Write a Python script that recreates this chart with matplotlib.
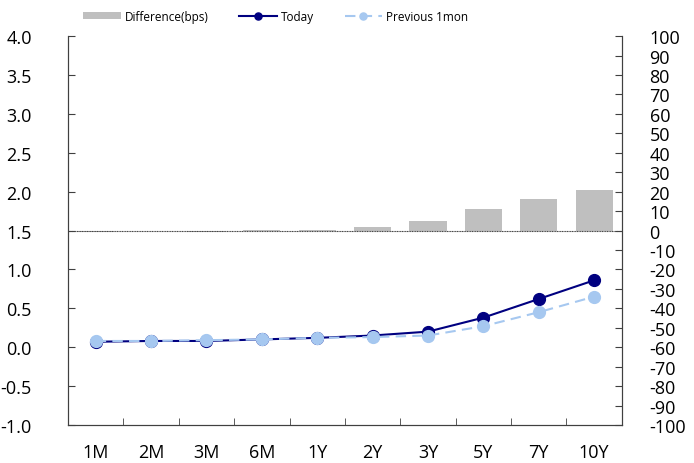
import numpy as np
import matplotlib
matplotlib.use('Agg')
import matplotlib.pyplot as plt
from matplotlib.ticker import MultipleLocator

plt.rcParams['font.family'] = ['Open Sans', 'DejaVu Sans']
plt.rcParams['axes.unicode_minus'] = False

# Data
tenors = ['1M', '2M', '3M', '6M', '1Y', '2Y', '3Y', '5Y', '7Y', '10Y']
today = [0.07, 0.08, 0.08, 0.10, 0.12, 0.15, 0.20, 0.38, 0.62, 0.86]
prev_1mon = [0.08, 0.08, 0.09, 0.10, 0.12, 0.13, 0.15, 0.27, 0.45, 0.65]
diff_bps = [-0.5, -0.3, -0.5, 0.3, 0.3, 1.9, 5.1, 11.0, 16.1, 20.6]

fig = plt.figure(figsize=(6.94, 4.64), dpi=100)
ax = fig.add_axes([0.098, 0.082, 0.798, 0.838])
ax2 = ax.twinx()

x = np.arange(len(tenors))

# bars on the right axis, behind the lines
ax2.bar(x, diff_bps, width=0.67, color='#bfbfbf', label='Difference(bps)', zorder=2)
ax2.axhline(0, color='#404040', lw=0.8, ls=(0, (1, 0.5)), zorder=3)
ax2.set_ylim(-100, 100)
ax2.yaxis.set_major_locator(MultipleLocator(10))

ax.set_zorder(ax2.get_zorder() + 1)
ax.patch.set_visible(False)

ax.plot(x, today, color='#000080', lw=1.5, marker='o', ms=8.5, label='Today', zorder=4)
ax.plot(x, prev_1mon, color='#a6c8f0', lw=1.5, ls=(0, (5, 3)), marker='o', ms=8.5,
        label='Previous 1mon', zorder=5)

ax.set_ylim(-1.0, 4.0)
ax.yaxis.set_major_locator(MultipleLocator(0.5))
ax.yaxis.set_major_formatter(matplotlib.ticker.FormatStrFormatter('%.1f'))
ax.set_xlim(-0.5, len(tenors) - 0.5)
ax.set_xticks(x)
ax.set_xticklabels(tenors)
ax.set_xticks(np.arange(-0.5, len(tenors), 1.0), minor=True)
ax.tick_params(axis='x', which='major', length=0, pad=13, labelsize=13)
ax.tick_params(axis='x', which='minor', direction='in', length=5, color='#404040')
ax.tick_params(axis='y', direction='in', length=5, labelsize=13, pad=26, color='#404040')
ax2.tick_params(axis='y', direction='in', length=5, labelsize=13, pad=20, color='#404040')

for a in (ax, ax2):
    a.spines['top'].set_visible(False)
    for s in ('left', 'right', 'bottom'):
        a.spines[s].set_color('#404040')
        a.spines[s].set_linewidth(0.8)

h1, l1 = ax2.get_legend_handles_labels()
h2, l2 = ax.get_legend_handles_labels()
leg = fig.legend(h1 + h2, l1 + l2, loc='upper left', bbox_to_anchor=(0.105, 1.0),
                 ncol=3, frameon=False, fontsize=8.5, handlelength=3.2, columnspacing=2.6,
                 handletextpad=0.3, markerscale=0.6, handleheight=0.6)

fig.savefig('out.png', dpi=100)
